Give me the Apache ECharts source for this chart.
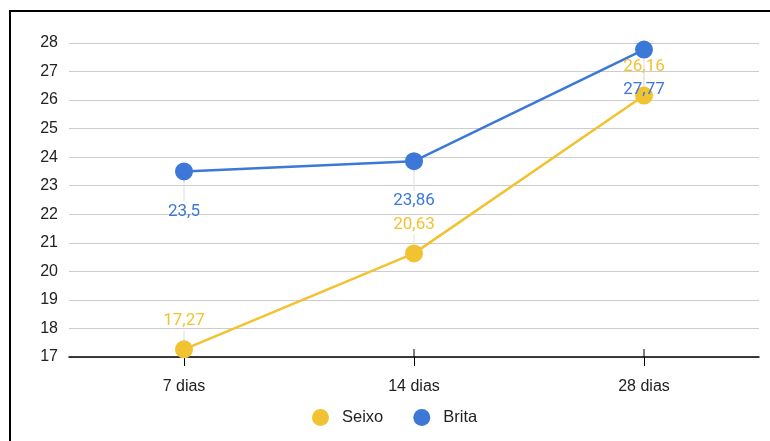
<!DOCTYPE html>
<html>
<head>
<meta charset="utf-8">
<script src="https://cdn.jsdelivr.net/npm/echarts@6/dist/echarts.min.js"></script>
<style>
  html, body { margin: 0; padding: 0; background: #fff; }
  #chart { width: 770px; height: 441px; }
</style>
</head>
<body>
<div id="chart"></div>
<script>
// Resistência por idade de cura
const categories = ['7 dias', '14 dias', '28 dias'];
const seixo = [17.27, 20.63, 26.16];
const brita = [23.5, 23.86, 27.77];
const yTicks = { min: 17, max: 28, step: 1 };

const SEIXO_COLOR = '#f1c232';
const BRITA_COLOR = '#3c78d8';
const LABEL_FONT = 'Roboto, Arial, sans-serif';
const AXIS_FONT = '"Liberation Sans", Arial, sans-serif';

const SEIXO_DY = -29;
const BRITA_DY = 40;

const fmt = v => String(v).replace('.', ',');

function lineSeries(name, values, color, dy) {
  return {
    name: name,
    type: 'line',
    data: values,
    symbol: 'circle',
    symbolSize: 18,
    itemStyle: { color: color },
    lineStyle: { color: color, width: 2.5 },
    z: 3,
    label: {
      show: true,
      position: 'inside',
      offset: [0, dy],
      color: color,
      fontFamily: LABEL_FONT,
      fontSize: 17,
      formatter: p => fmt(p.value)
    }
  };
}

// thin leader lines from each point to its value label
function leaderSeries(values, dy) {
  return {
    type: 'custom',
    data: values.map((v, i) => [i, v]),
    z: 1,
    silent: true,
    renderItem: function (params, api) {
      const p = api.coord([api.value(0), api.value(1)]);
      const end = p[1] + dy - Math.sign(dy) * 10;
      return {
        type: 'line',
        shape: { x1: p[0], y1: p[1], x2: p[0], y2: end },
        style: { stroke: '#dddddd', lineWidth: 1 }
      };
    }
  };
}

const chart = echarts.init(document.getElementById('chart'), null, { renderer: 'canvas' });
chart.setOption({
  animation: false,
  backgroundColor: '#ffffff',
  graphic: [{
    type: 'rect',
    shape: { x: 10, y: 11, width: 800, height: 500 },
    style: { fill: 'none', stroke: '#000', lineWidth: 2 },
    z: -10
  }],
  grid: { left: 69, right: 11, top: 43, bottom: 84 },
  legend: {
    bottom: 10,
    left: 307,
    icon: 'circle',
    itemWidth: 17,
    itemHeight: 17,
    itemGap: 30,
    textStyle: { fontSize: 16.5, color: '#222', fontFamily: AXIS_FONT, padding: [0, 0, 0, 8] },
    data: ['Seixo', 'Brita']
  },
  xAxis: {
    type: 'category',
    data: categories,
    boundaryGap: true,
    axisLine: { show: true, lineStyle: { color: '#000', width: 1.5 } },
    axisTick: { show: true, alignWithLabel: true, length: 9, lineStyle: { color: '#000', width: 1 } },
    axisLabel: { margin: 22, fontSize: 16, color: '#222', fontFamily: AXIS_FONT },
    splitLine: { show: false }
  },
  yAxis: {
    type: 'value',
    min: yTicks.min,
    max: yTicks.max,
    interval: yTicks.step,
    axisLine: { show: false },
    axisTick: { show: false },
    axisLabel: { margin: 11, fontSize: 16, color: '#222', fontFamily: AXIS_FONT },
    splitLine: { lineStyle: { color: '#cccccc', width: 1 } }
  },
  series: [
    leaderSeries(seixo, SEIXO_DY),
    leaderSeries(brita, BRITA_DY),
    {
      // short upward tick marks at each category on the x axis
      type: 'custom',
      data: categories.map((c, i) => [i, yTicks.min]),
      z: 2,
      silent: true,
      renderItem: function (params, api) {
        const p = api.coord([api.value(0), api.value(1)]);
        return {
          type: 'line',
          shape: { x1: p[0], y1: p[1], x2: p[0], y2: p[1] - 8 },
          style: { stroke: '#000', lineWidth: 1 }
        };
      }
    },
    lineSeries('Seixo', seixo, SEIXO_COLOR, SEIXO_DY),
    lineSeries('Brita', brita, BRITA_COLOR, BRITA_DY)
  ]
});
</script>
</body>
</html>
